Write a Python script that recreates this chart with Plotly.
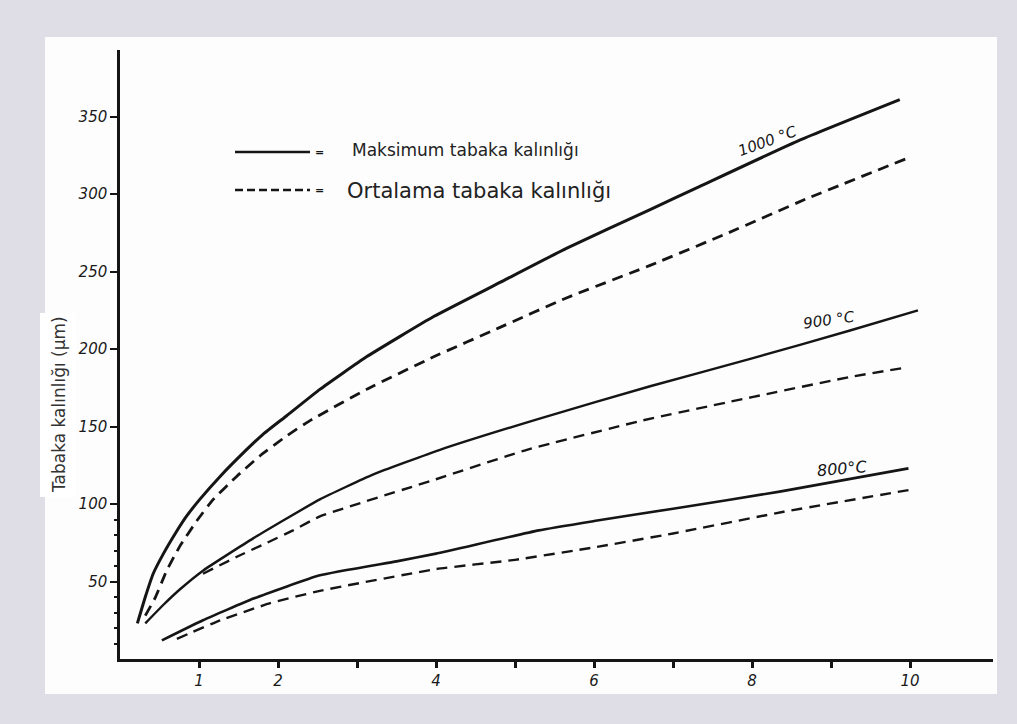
import plotly.graph_objects as go

# ---- data ----
x_1000_max = [0.22, 0.32, 0.42, 0.55, 0.70, 0.84, 1.01, 1.27, 1.56, 1.81, 2.11, 2.53, 3.12, 3.97, 4.81, 5.65, 6.71, 7.34, 8.61, 9.87]
y_1000_max = [23, 40, 55, 68, 81, 92, 103, 118, 133, 145, 157, 174, 195, 221, 243, 265, 290, 305, 335, 361]

x_1000_avg = [0.32, 0.45, 0.59, 0.76, 0.97, 1.18, 1.48, 1.77, 2.11, 2.41, 3.12, 3.97, 4.81, 5.65, 6.71, 7.70, 8.69, 9.96]
y_1000_avg = [28, 40, 57, 73, 89, 103, 118, 131, 144, 154, 174, 195, 214, 233, 254, 275, 297, 323]

x_900_max = [0.32, 0.55, 0.76, 1.05, 1.69, 2.53, 3.20, 4.05, 5.30, 6.71, 8.00, 9.24, 10.10]
y_900_max = [23, 35, 45, 57, 78, 103, 119, 135, 155, 176, 194, 212, 225]

x_900_avg = [1.05, 1.48, 1.86, 2.19, 2.53, 4.00, 5.15, 6.62, 8.00, 9.24, 9.94]
y_900_avg = [55, 66, 75, 83, 92, 116, 135, 154, 169, 182, 188]

x_800_max = [0.53, 1.05, 1.69, 2.53, 3.50, 4.00, 5.30, 6.00, 7.00, 8.35, 9.98]
y_800_max = [12, 25, 39, 54, 63, 68, 83, 89, 97, 108, 123]

x_800_avg = [0.72, 1.27, 1.90, 2.53, 4.00, 5.00, 6.00, 7.00, 8.40, 9.98]
y_800_avg = [13, 25, 36, 44, 58, 64, 72, 81, 95, 109]

x_tickvals = [1, 2, 3, 4, 5, 6, 7, 8, 9, 10]
x_ticktext = ["1", "2", "", "4", "", "6", "", "8", "", "10"]
y_tickvals = [50, 100, 150, 200, 250, 300, 350]
y_minor = [10, 20, 30, 40, 60, 70, 80, 90]

temp_labels = ["1000 °C", "900 °C", "800°C"]
legend_labels = ["Maksimum tabaka kalınlığı", "Ortalama tabaka kalınlığı"]
y_title = "Tabaka kalınlığı (μm)"

INK = "#151515"
DASH = "11px,7px"

fig = go.Figure()

series = [
    (x_1000_max, y_1000_max, "solid", 3.0),
    (x_1000_avg, y_1000_avg, DASH, 2.8),
    (x_900_max, y_900_max, "solid", 2.4),
    (x_900_avg, y_900_avg, DASH, 2.4),
    (x_800_max, y_800_max, "solid", 2.6),
    (x_800_avg, y_800_avg, DASH, 2.4),
]
for xs, ys, dash, w in series:
    fig.add_trace(go.Scatter(x=xs, y=ys, mode="lines", showlegend=False,
                             line=dict(color=INK, width=w, dash=dash, shape="spline", smoothing=0.4),
                             hoverinfo="skip"))

# minor ticks on y axis (secondary overlaying axis)
fig.add_trace(go.Scatter(x=[None], y=[None], yaxis="y2", showlegend=False))

tickfont = dict(family="DejaVu Sans", size=15, color="#1a1a1a", style="italic")

fig.update_layout(
    width=1017, height=724,
    margin=dict(l=120, r=24, t=50, b=65),
    paper_bgcolor="#dfdde5",
    plot_bgcolor="rgba(0,0,0,0)",
    xaxis=dict(range=[0, 11.05], showgrid=False, zeroline=False,
               showline=True, linecolor=INK, linewidth=2.5,
               ticks="outside", ticklen=6, tickwidth=2.5, tickcolor=INK,
               tickvals=x_tickvals, ticktext=x_ticktext, tickfont=tickfont),
    yaxis=dict(range=[0, 393], showgrid=False, zeroline=False,
               showline=True, linecolor=INK, linewidth=2.5,
               ticks="outside", ticklen=7, tickwidth=2, tickcolor=INK,
               tickvals=y_tickvals, ticktext=[f"{v}" for v in y_tickvals], tickfont=tickfont),
    yaxis2=dict(range=[0, 393], overlaying="y", side="left", showgrid=False, zeroline=False,
                showline=False, ticks="outside", ticklen=5, tickwidth=2, tickcolor=INK,
                tickvals=y_minor, showticklabels=False),
)

def px_x(p):
    return (p - 120) / 873

def px_y(p):
    return (659 - p) / 609

# white panel behind the chart
fig.add_shape(type="rect", xref="paper", yref="paper", layer="below",
              x0=px_x(45), x1=px_x(997), y0=px_y(694), y1=px_y(37),
              fillcolor="#fdfdfd", line=dict(width=0))
fig.add_shape(type="rect", xref="paper", yref="paper", layer="below",
              x0=px_x(40), x1=px_x(76), y0=px_y(497), y1=px_y(313),
              fillcolor="#ffffff", line=dict(width=0))

# legend drawn by hand
fig.add_shape(type="line", xref="paper", yref="paper",
              x0=px_x(235), x1=px_x(310), y0=px_y(152), y1=px_y(152),
              line=dict(color=INK, width=2.6))
fig.add_shape(type="line", xref="paper", yref="paper",
              x0=px_x(235), x1=px_x(310), y0=px_y(190), y1=px_y(190),
              line=dict(color=INK, width=2.4, dash="8px,4px"))
for yy in (152, 190):
    fig.add_annotation(xref="paper", yref="paper", x=px_x(319), y=px_y(yy), text="<b>=</b>",
                       xanchor="center", yanchor="middle",
                       showarrow=False, font=dict(family="DejaVu Sans", size=11, color=INK))
fig.add_annotation(xref="paper", yref="paper", x=px_x(350), y=px_y(150), xanchor="left",
                   yanchor="middle", text=legend_labels[0], showarrow=False,
                   font=dict(family="DejaVu Sans", size=17, color="#222"))
fig.add_annotation(xref="paper", yref="paper", x=px_x(345), y=px_y(191), xanchor="left",
                   yanchor="middle", text=legend_labels[1], showarrow=False,
                   font=dict(family="DejaVu Sans", size=21, color="#222"))

# temperature labels
lblfont = dict(family="DejaVu Sans", size=15, color=INK, style="italic")
fig.add_annotation(x=8.2, y=334, text=temp_labels[0], textangle=-20, showarrow=False, font=lblfont)
fig.add_annotation(x=8.98, y=219, text=temp_labels[1], textangle=-8, showarrow=False, font=lblfont)
fig.add_annotation(x=9.15, y=123, text=temp_labels[2], textangle=-5, showarrow=False,
                   font=dict(family="DejaVu Sans", size=16, color=INK, style="italic"))

# y axis title
fig.add_annotation(xref="paper", yref="paper", x=px_x(59), y=px_y(405), text=y_title,
                   textangle=-90, showarrow=False, xanchor="center", yanchor="middle",
                   font=dict(family="DejaVu Sans", size=17, color="#333"))

fig.write_html("out.html", config={"displayModeBar": False},
               post_script="document.body.style.margin='0';")
